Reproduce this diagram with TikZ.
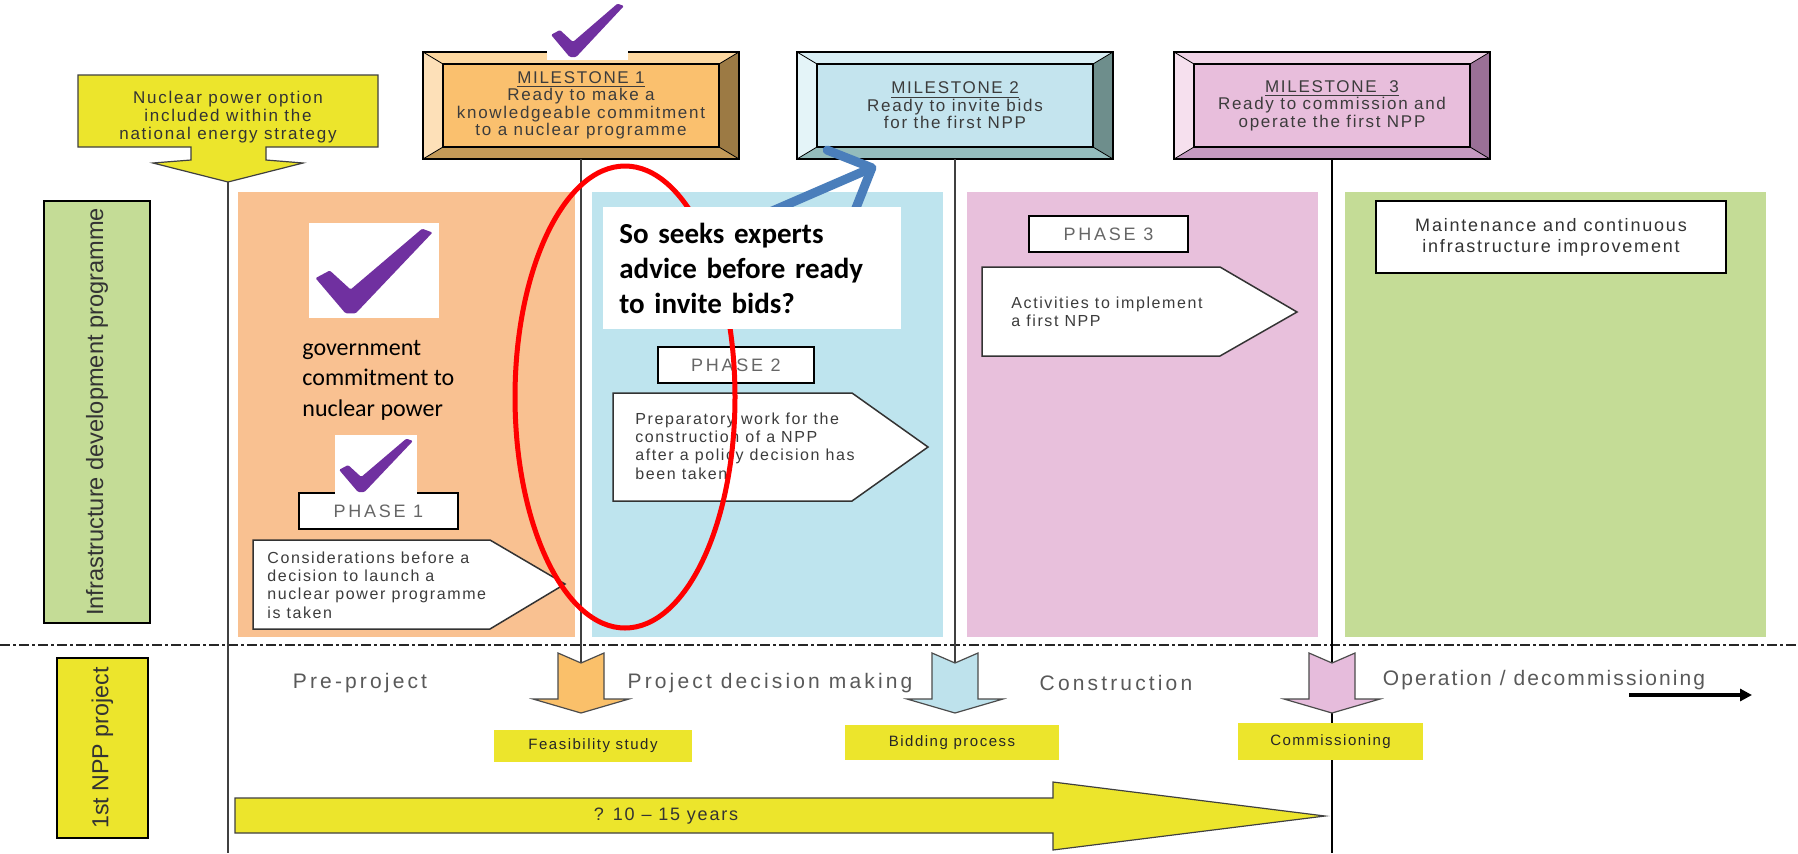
\documentclass[tikz,border=0pt]{standalone}
\usepackage{fontspec}
\setmainfont{Liberation Sans}
\newfontfamily\calib{Carlito}
\newfontfamily\spaced[LetterSpace=10]{Liberation Sans}
\newfontfamily\wide[LetterSpace=15]{Liberation Sans}
\usetikzlibrary{arrows.meta,positioning,calc}
\definecolor{pnlA}{HTML}{F9C191}
\definecolor{pnlB}{HTML}{BEE4EE}
\definecolor{pnlC}{HTML}{E8C0DC}
\definecolor{pnlD}{HTML}{C4DC96}
\definecolor{tagyel}{HTML}{ECE52C}
\definecolor{msA}{HTML}{FAC06E}
\definecolor{msAt}{HTML}{FCD7A0}
\definecolor{msAl}{HTML}{FDE0B8}
\definecolor{msAr}{HTML}{9C7A44}
\definecolor{msAb}{HTML}{C49A58}
\definecolor{msB}{HTML}{C4E4EE}
\definecolor{msBt}{HTML}{D8EEF4}
\definecolor{msBl}{HTML}{E4F4F8}
\definecolor{msBr}{HTML}{6E8E8C}
\definecolor{msBb}{HTML}{94BCBC}
\definecolor{msC}{HTML}{E8BEDC}
\definecolor{msCt}{HTML}{F0D2E6}
\definecolor{msCl}{HTML}{F6E0EE}
\definecolor{msCr}{HTML}{9A7096}
\definecolor{msCb}{HTML}{C49AC0}
\definecolor{arrA}{HTML}{FAC06A}
\definecolor{arrB}{HTML}{BEE2EC}
\definecolor{arrC}{HTML}{E6BCDC}
\definecolor{tickc}{HTML}{7030A0}
\definecolor{hint}{HTML}{4A7EBB}
\definecolor{ink}{HTML}{3C3C3C}
\tikzset{
  msbox/.style={draw=black,line width=1pt,outer sep=0pt,inner sep=0pt,minimum width=158pt,minimum height=53.5pt,
    align=center,text=ink,font=\spaced\fontsize{8.5}{8.7}\selectfont},
  phasebox/.style={draw=black,line width=1pt,fill=white,inner sep=0pt,minimum height=18pt,text=black!60,
    font=\wide\fontsize{9}{10}\selectfont},
  pentabox/.style={draw=black!80,line width=0.75pt,fill=white},
  notetext/.style={anchor=north west,inner sep=0pt,align=left,text=ink,font=\spaced\fontsize{8}{9.2}\selectfont},
  tagbox/.style={fill=tagyel,inner sep=0pt,text=black!85,font=\spaced\fontsize{7.5}{8}\selectfont},
  lanetext/.style={text=black!65,font=\wide\fontsize{10.5}{12}\selectfont},
  sidebox/.style={draw=black,line width=1pt,inner sep=0pt,rotate=90,text=black!80,font=\fontsize{11.8}{13}\selectfont},
  yelarrow/.style={fill=tagyel,draw=black!75,line width=0.6pt},
  vline/.style={draw=black!75,line width=1pt},
  divider/.style={draw=black!85,line width=1.2pt,dash pattern=on 5pt off 1.5pt on 1.5pt off 1.5pt},
  redring/.style={draw=red,line width=2.5pt},
  bluepointer/.style={draw=hint,line width=4.5pt,-{Straight Barb[round,length=17pt,width=34pt]}},
  blkarrow/.style={draw=black,line width=2pt,-{Triangle[length=6pt,width=6pt]}},
  asknote/.style={fill=white,anchor=north west,minimum width=149pt,minimum height=61pt,inner xsep=8pt,
    text width=133pt,align=left,font=\calib\bfseries\fontsize{14.5}{17.5}\selectfont},
  tick/.pic={
    \fill[white] (0,0) rectangle (1,1);
    \fill[tickc,rounded corners=0.6pt] (0.05,0.58) -- (0.16,0.50) -- (0.32,0.70) -- (0.87,0.06) -- (0.95,0.10)
      -- (0.36,0.95) -- (0.28,0.95) -- cycle;
  },
}
% bevelled milestone frame: node, top, left, right, bottom
\newcommand\msbevel[5]{%
  \fill[#2] (#1.north west) -- (#1.north east) -- ($(#1.north east)+(-20,12)$) -- ($(#1.north west)+(20,12)$) -- cycle;
  \fill[#3] (#1.north west) -- ($(#1.north west)+(20,12)$) -- ($(#1.south west)+(20,-12)$) -- (#1.south west) -- cycle;
  \fill[#4] (#1.north east) -- ($(#1.north east)+(-20,12)$) -- ($(#1.south east)+(-20,-12)$) -- (#1.south east) -- cycle;
  \fill[#5] (#1.south west) -- ($(#1.south west)+(20,-12)$) -- ($(#1.south east)+(-20,-12)$) -- (#1.south east) -- cycle;
  \draw[line width=0.4pt] (#1.north west) -- ++(20,12) (#1.north east) -- ++(-20,12)
    (#1.south west) -- ++(20,-12) (#1.south east) -- ++(-20,-12);
  \draw[line width=0.9pt] ($(#1.north west)+(20,12)$) rectangle ($(#1.south east)+(-20,-12)$);
  \draw[line width=1.1pt] (#1.north west) rectangle (#1.south east);
}

\begin{document}
\begin{tikzpicture}[x=0.5pt,y=-0.5pt]
  \useasboundingbox[fill=white] (0,0) rectangle (1798,853);
  % phase panels
  \fill[pnlA] (238,192) rectangle (575,637);
  \fill[pnlB] (592,192) rectangle (943,637);
  \fill[pnlC] (967,192) rectangle (1318,637);
  \fill[pnlD] (1345,192) rectangle (1766,637);
  \draw[divider] (0,645) -- (1798,645);

  % strategy arrow
  \filldraw[yelarrow] (78,75) -- (378,75) -- (378,147) -- (266,147) -- (266,160) -- (303,163) -- (228,182)
    -- (153,163) -- (191,160) -- (191,147) -- (78,147) -- cycle;
  \node[align=center,text=black!80,font=\spaced\fontsize{8.5}{9}\selectfont] (nes) at (228,117)
    {Nuclear power option\\included within the\\national energy strategy};
  \coordinate (t0) at (228,182);
  \coordinate (b0) at (228,853);

  % milestones
  \node[msbox,fill=msA] (ms1) at (581,105.5)
    {\underline{MILESTONE 1}\\Ready to make a\\knowledgeable commitment\\to a nuclear programme};
  \node[msbox,fill=msB,right=29pt of ms1] (ms2) {\underline{MILESTONE 2}\\Ready to invite bids\\for the first NPP};
  \node[msbox,fill=msC,right=30.5pt of ms2] (ms3) {\underline{MILESTONE\ \ 3}\\Ready to commission and\\operate the first NPP};
  \msbevel{ms1}{msAt}{msAl}{msAr}{msAb}
  \msbevel{ms2}{msBt}{msBl}{msBr}{msBb}
  \msbevel{ms3}{msCt}{msCl}{msCr}{msCb}

  \coordinate (nA) at (581,663);
  \coordinate (nB) at (955,663);
  \coordinate (b3) at (1332,853);
  \draw[vline] (t0) -- (b0);
  \draw[vline] (ms1.south) -- (nA);
  \draw[vline] (ms2.south) -- (nB);
  \draw[vline,draw=black] (ms3.south) -- (b3);

  % project steps
  \filldraw[fill=arrA,draw=black!70,line width=0.6pt] (558,653) -- (581,663) -- (604,653) -- (604,699) -- (629,699)
    -- (581,713) -- (533,699) -- (558,699) -- cycle;
  \filldraw[fill=arrB,draw=black!70,line width=0.6pt] (932,653) -- (955,663) -- (978,653) -- (978,699) -- (1003,699)
    -- (955,713) -- (907,699) -- (932,699) -- cycle;
  \filldraw[fill=arrC,draw=black!70,line width=0.6pt] (1309,653) -- (1332,663) -- (1355,653) -- (1355,699) -- (1380,699)
    -- (1332,713) -- (1284,699) -- (1309,699) -- cycle;
  \node[tagbox,minimum width=99pt,minimum height=16pt] (feas) at (593,746) {Feasibility study};
  \node[tagbox,minimum width=107pt,minimum height=17.5pt] (bid) at (952,742.5) {Bidding process};
  \node[tagbox,minimum width=92.5pt,minimum height=18.5pt] (comm) at (1330.5,741.5) {Commissioning};

  \node[lanetext] (pre) at (360,683) {Pre-project};
  \node[lanetext] (pdm) at (770,683) {Project decision making};
  \node[lanetext] (con) at (1116,683) {Construction};
  \node[lanetext,font=\spaced\fontsize{10.5}{12}\selectfont] (ope) at (1544,680) {Operation / decommissioning};
  \coordinate (oa) at (1629,695);
  \coordinate (ob) at (1752,695);
  \draw[blkarrow] (oa) -- (ob);

  \filldraw[yelarrow] (235,798) -- (1053,798) -- (1053,782) -- (1325,816) -- (1053,850) -- (1053,833) -- (235,833) -- cycle;
  \node[text=black!80,font=\spaced\fontsize{9}{10}\selectfont] (yrs) at (666,816) {? 10 – 15 years};

  % row labels
  \node[sidebox,fill=pnlD,minimum width=211pt,minimum height=53pt] (idp) at (97,412) {Infrastructure development programme};
  \node[sidebox,fill=tagyel,minimum width=90pt,minimum height=45.5pt,font=\fontsize{11.6}{13}\selectfont] (npp) at (102.5,748) {1st NPP project};

  % phase contents
  \node[phasebox,minimum width=79.5pt] (ph1) at (378.5,511) {PHASE 1};
  \node[phasebox,minimum width=78pt] (ph2) at (736,365) {PHASE 2};
  \node[phasebox,minimum width=79.5pt] (ph3) at (1108.5,234) {PHASE 3};
  \filldraw[pentabox] (253,540) -- (490,540) -- (565,584) -- (490,629) -- (253,629) -- cycle;
  \node[notetext] (p1) at (267,551) {Considerations before a\\decision to launch a\\nuclear power programme\\is taken};
  \filldraw[pentabox] (613,393) -- (852,393) -- (928,447) -- (852,501) -- (613,501) -- cycle;
  \node[notetext] (p2) at (635,412) {Preparatory work for the\\construction of a NPP\\after a policy decision has\\been taken};
  \filldraw[pentabox] (982,267) -- (1220,267) -- (1297,312) -- (1220,356) -- (982,356) -- cycle;
  \node[notetext] (p3) at (1011,296) {Activities to implement\\a first NPP};
  \node[phasebox,align=center,text=black!80,minimum width=175pt,minimum height=36pt,
    font=\spaced\fontsize{9}{10.5}\selectfont] (mnt) at (1551,237) {Maintenance and continuous\\infrastructure improvement};

  % annotations
  \draw[redring] (625,397) ellipse [x radius=55pt,y radius=115.5pt];
  \coordinate (q0) at (756,218);
  \coordinate (q1) at (876,166);
  \draw[bluepointer] (q0) -- (q1);
  \node[asknote] (ask) at (603,207) {So seeks experts\\advice before ready\\to invite bids?};

  \begin{scope}[shift={(547,0)},x=40.5pt,y=-30pt] \pic{tick}; \end{scope}
  \begin{scope}[shift={(309,223)},x=65pt,y=-47.5pt] \pic{tick}; \end{scope}
  \begin{scope}[shift={(335,435)},x=41pt,y=-30pt] \pic{tick}; \end{scope}
  \node[anchor=north west,inner sep=0pt,align=left,font=\calib\fontsize{12}{15.2}\selectfont] (gov) at (302,340)
    {government\\commitment to\\nuclear power};
\end{tikzpicture}
\end{document}
